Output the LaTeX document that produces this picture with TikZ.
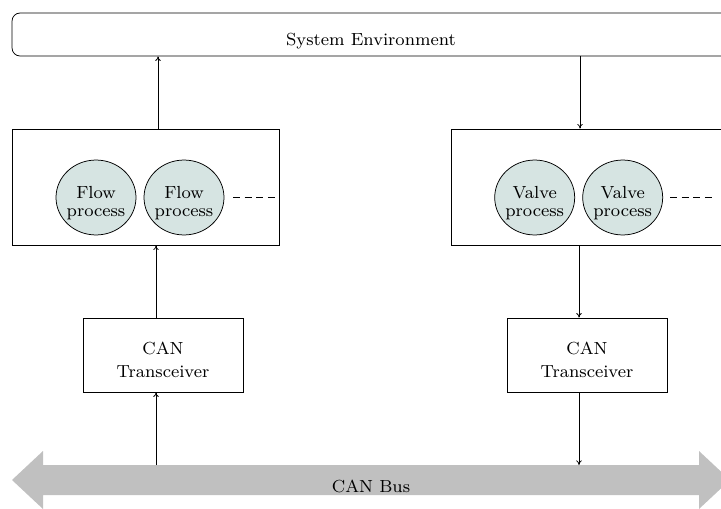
\documentclass[tikz,border=0pt]{standalone}
\usetikzlibrary{shapes.geometric,arrows.meta}
\definecolor{procfill}{RGB}{214,228,226}
\definecolor{busgray}{RGB}{192,192,192}
\newcommand\stxt[1]{\scalebox{1.17}{\footnotesize #1}}
\newcommand\ttxt[2]{\scalebox{1.17}{\footnotesize\begin{tabular}{@{}c@{}}#1\end{tabular}}}
\begin{document}
\begin{tikzpicture}[x=0.535pt,y=-0.535pt,
  box/.style={draw, line width=0.4pt, inner sep=0},
  proc/.style={ellipse, draw, line width=0.4pt, fill=procfill, minimum width=42.8pt, minimum height=40.1pt, inner sep=0},
  txt/.style={align=center, inner sep=0},
  conn/.style={line width=0.4pt, -{To[length=2.5pt,width=3pt]}},
  dashline/.style={line width=0.4pt, dash pattern=on 3.9pt off 2.3pt}]
\useasboundingbox (0,0) rectangle (721,509);
\clip (0,0) rectangle (721,509);

% system environment
\node[box, rounded corners=4.3pt, minimum width=384.1pt, minimum height=23pt] (env) at (371,34.5) {};
\node[txt] (envtext) at ([yshift=-3.8pt]env.center) {\stxt{System Environment}};

% process boxes
\node[box, minimum width=142.8pt, minimum height=62.1pt] (flowbox) at (145.5,187) {};
\node[box, minimum width=154.6pt, minimum height=62.1pt] (valvebox) at (595.5,187) {};

\node[proc] (f1) at (96,197.5) {};
\node[proc] (f2) at (184,197.5) {};
\node[proc] (v1) at (534.7,197.5) {};
\node[proc] (v2) at (622.7,197.5) {};
\node[txt] (f1t) at ([yshift=-3.1pt]f1.center) {\ttxt{Flow\\[-1.1pt]process}{}};
\node[txt] (f2t) at ([yshift=-3.1pt]f2.center) {\ttxt{Flow\\[-1.1pt]process}{}};
\node[txt] (v1t) at ([yshift=-3.1pt]v1.center) {\ttxt{Valve\\[-1.1pt]process}{}};
\node[txt] (v2t) at ([yshift=-3.1pt]v2.center) {\ttxt{Valve\\[-1.1pt]process}{}};
\draw[dashline] (233,197) -- (275,197);
\draw[dashline] (670,197) -- (712,197);

% CAN transceivers
\node[box, minimum width=85.6pt, minimum height=39.6pt] (canL) at (163,355) {};
\node[box, minimum width=85.6pt, minimum height=39.6pt] (canR) at (587,355) {};
\node[txt] (canLt) at ([yshift=-3.7pt]canL.center) {\ttxt{CAN\\[1pt]Transceiver}{}};
\node[txt] (canRt) at ([yshift=-3.7pt]canR.center) {\ttxt{CAN\\[1pt]Transceiver}{}};

% CAN bus
\fill[busgray] (12,480) -- (43,451) -- (43,465) -- (699,465) -- (699,451) -- (730,480)
  -- (699,509) -- (699,495) -- (43,495) -- (43,509) -- cycle;
\coordinate (bus) at (371,480);
\node[txt] (bustext) at ([yshift=-3.7pt]bus) {\stxt{CAN Bus}};
\coordinate (busL) at (156,465);
\coordinate (busR) at (579,465);

% connectors
\coordinate (xa) at (158,0);
\coordinate (xb) at (156,0);
\coordinate (xc) at (580,0);
\coordinate (xd) at (579,0);
\draw[conn] (flowbox.north -| xa) -- (env.south -| xa);
\draw[conn] (canL.north -| xb) -- (flowbox.south -| xb);
\draw[conn] (busL) -- (canL.south -| xb);
\draw[conn] (env.south -| xc) -- (valvebox.north -| xc);
\draw[conn] (valvebox.south -| xd) -- (canR.north -| xd);
\draw[conn] (canR.south -| xd) -- (busR);
\end{tikzpicture}
\end{document}
